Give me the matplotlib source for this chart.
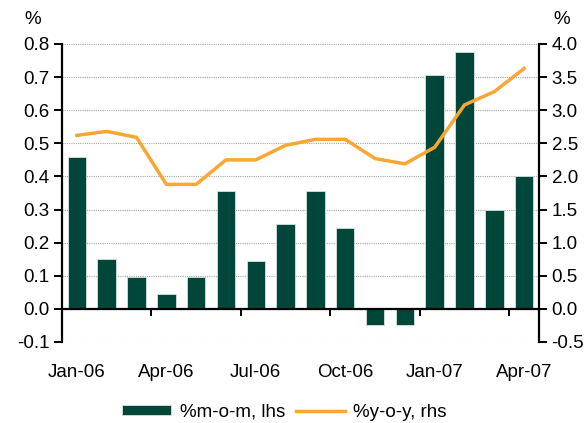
import matplotlib

matplotlib.use("Agg")
import matplotlib.pyplot as plt
import numpy as np

plt.rcParams["font.family"] = ["Liberation Sans", "DejaVu Sans"]

months = ["Jan-06", "Feb-06", "Mar-06", "Apr-06", "May-06", "Jun-06",
          "Jul-06", "Aug-06", "Sep-06", "Oct-06", "Nov-06", "Dec-06",
          "Jan-07", "Feb-07", "Mar-07", "Apr-07"]
mom = [0.46, 0.15, 0.095, 0.045, 0.095, 0.355, 0.145, 0.255,
       0.355, 0.245, -0.05, -0.05, 0.705, 0.775, 0.30, 0.40]
yoy = [2.62, 2.68, 2.59, 1.88, 1.88, 2.25, 2.25, 2.47,
       2.56, 2.56, 2.27, 2.19, 2.44, 3.08, 3.28, 3.63]

GREEN = "#00473a"
ORANGE = "#f8a733"
FS = 13.5

fig = plt.figure(figsize=(5.88, 4.23), dpi=100)
ax = fig.add_axes([0.1054, 0.1915, 0.8113, 0.7045])
ax2 = ax.twinx()

x = np.arange(len(months))
ax.bar(x, mom, width=0.62, color=GREEN, edgecolor="#d6e2dc", linewidth=0.6,
       label="%m-o-m, lhs", zorder=3)
ax2.plot(x, yoy, color=ORANGE, lw=2.5, label="%y-o-y, rhs", zorder=4)

ax.set_xlim(-0.5, len(months) - 0.5)
ax.set_ylim(-0.1, 0.8)
ax2.set_ylim(-0.5, 4.0)
ax.set_yticks(np.arange(-0.1, 0.81, 0.1))
ax2.set_yticks(np.arange(-0.5, 4.01, 0.5))
ax.yaxis.set_major_formatter(matplotlib.ticker.FormatStrFormatter("%.1f"))
ax2.yaxis.set_major_formatter(matplotlib.ticker.FormatStrFormatter("%.1f"))

ax.grid(axis="y", color="#a8a8a8", linestyle=(0, (1, 1)), linewidth=0.8, zorder=0)
ax.set_axisbelow(True)

# x axis line crosses at zero, labels every quarter, marks at boundaries
ax.spines["bottom"].set_position(("data", 0))
ax.spines["bottom"].set_linewidth(1.6)
ax.spines["bottom"].set_zorder(5)
ax.set_xticks(x[::3])
ax.set_xticklabels(months[::3])
ax.set_xticks(x[3::3] - 0.5, minor=True)
ax.tick_params(axis="x", which="major", length=0, pad=40, labelsize=FS)
ax.tick_params(axis="x", which="minor", length=5, width=1.4, direction="out")

for a in (ax, ax2):
    a.spines["top"].set_visible(False)
ax.spines["left"].set_linewidth(1.6)
ax.spines["right"].set_visible(False)
ax2.spines["bottom"].set_visible(False)
ax2.spines["left"].set_visible(False)
ax2.spines["right"].set_linewidth(1.6)
ax.tick_params(axis="y", length=6, width=1.4, labelsize=FS, pad=3)
ax2.tick_params(axis="y", length=6, width=1.4, labelsize=FS, pad=3)

fig.text(0.055, 0.955, "%", fontsize=FS, ha="center", va="center")
fig.text(0.955, 0.955, "%", fontsize=FS, ha="center", va="center")

h1, l1 = ax.get_legend_handles_labels()
h2, l2 = ax2.get_legend_handles_labels()
fig.legend(h1 + h2, l1 + l2, loc="center", bbox_to_anchor=(0.484, 0.026),
           ncol=2, frameon=False, fontsize=FS, handlelength=2.6,
           handleheight=0.5, columnspacing=0.6, handletextpad=0.45)

fig.savefig("out.png", dpi=100, facecolor="white")
